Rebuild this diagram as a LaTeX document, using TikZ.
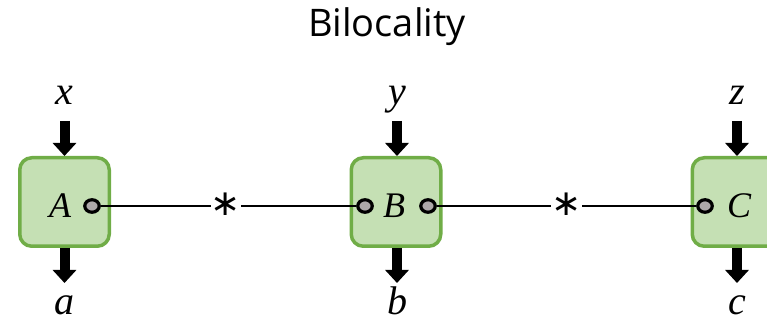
\documentclass[tikz,border=0pt]{standalone}
\usepackage{fontspec}
\setmainfont{Liberation Serif}
\newfontfamily\titlefont{Open Sans}
\newfontfamily\starfont{DejaVu Sans}
\usetikzlibrary{arrows.meta,shapes.geometric}
\definecolor{boxfill}{HTML}{C5E0B4}
\definecolor{boxline}{HTML}{70AD47}
\definecolor{portfill}{HTML}{ADA8A9}
\tikzset{
  party/.style={draw=boxline, fill=boxfill, line width=3.5pt, rounded corners=12pt,
    minimum width=89.5pt, minimum height=88.5pt, inner sep=0pt},
  port/.style={draw=black, fill=portfill, line width=3.2pt, ellipse,
    minimum width=14.5pt, minimum height=12.5pt, inner sep=0pt},
  bigarrow/.style={line width=10pt, -{Triangle[width=23pt,length=13pt]}},
  iolabel/.style={font=\fontsize{40}{40}\selectfont\itshape, anchor=base, inner sep=0pt, text depth=0pt},
  boxlabel/.style={font=\fontsize{36}{36}\selectfont\itshape, inner sep=0pt},
  link/.style={line width=2.2pt},
  starlabel/.style={font=\starfont\fontsize{36}{36}\selectfont, inner sep=0pt}
}
\begin{document}
\begin{tikzpicture}[x=1pt,y=1pt]
\useasboundingbox (0,0) rectangle (767,320);
\node[font=\titlefont\fontsize{38}{38}\selectfont, anchor=base, inner sep=0pt] (title) at (387,283) {Bilocality};
% boxes
\node[party] (A) at (64.5,118) {};
\node[party] (B) at (396,118) {};
\node[party] (C) at (737,118) {};
% box letters
\node[boxlabel] (Al) at (60,114) {A};
\node[boxlabel] (Bl) at (394,114) {B};
\node[boxlabel] (Cl) at (739,114) {C};
% ports
\node[port] (pA) at (92,114) {};
\node[port] (pBl) at (365,114) {};
\node[port] (pBr) at (428,114) {};
\node[port] (pC) at (705,114) {};
% links
\draw[link] (pA) -- (pBl) node[starlabel, fill=white, pos=0.489, yshift=1.5pt] (s1) {∗};
\draw[link] (pBr) -- (pC) node[starlabel, fill=white, pos=0.5, yshift=1.5pt] (s2) {∗};
% arrows and labels
\foreach \n/\xx/\inl/\outl in {A/64.5/x/a, B/397/y/b, C/737/z/c}{
  \coordinate (\n in) at (\xx,199);
  \coordinate (\n out) at (\xx,37);
  \draw[bigarrow] (\n in) -- (\xx,164);
  \draw[bigarrow] (\xx,72) -- (\n out);
  \node[iolabel] (\n inl) at (\xx,215) {\inl};
  \node[iolabel] (\n outl) at (\xx,5) {\outl};
}
\end{tikzpicture}
\end{document}
